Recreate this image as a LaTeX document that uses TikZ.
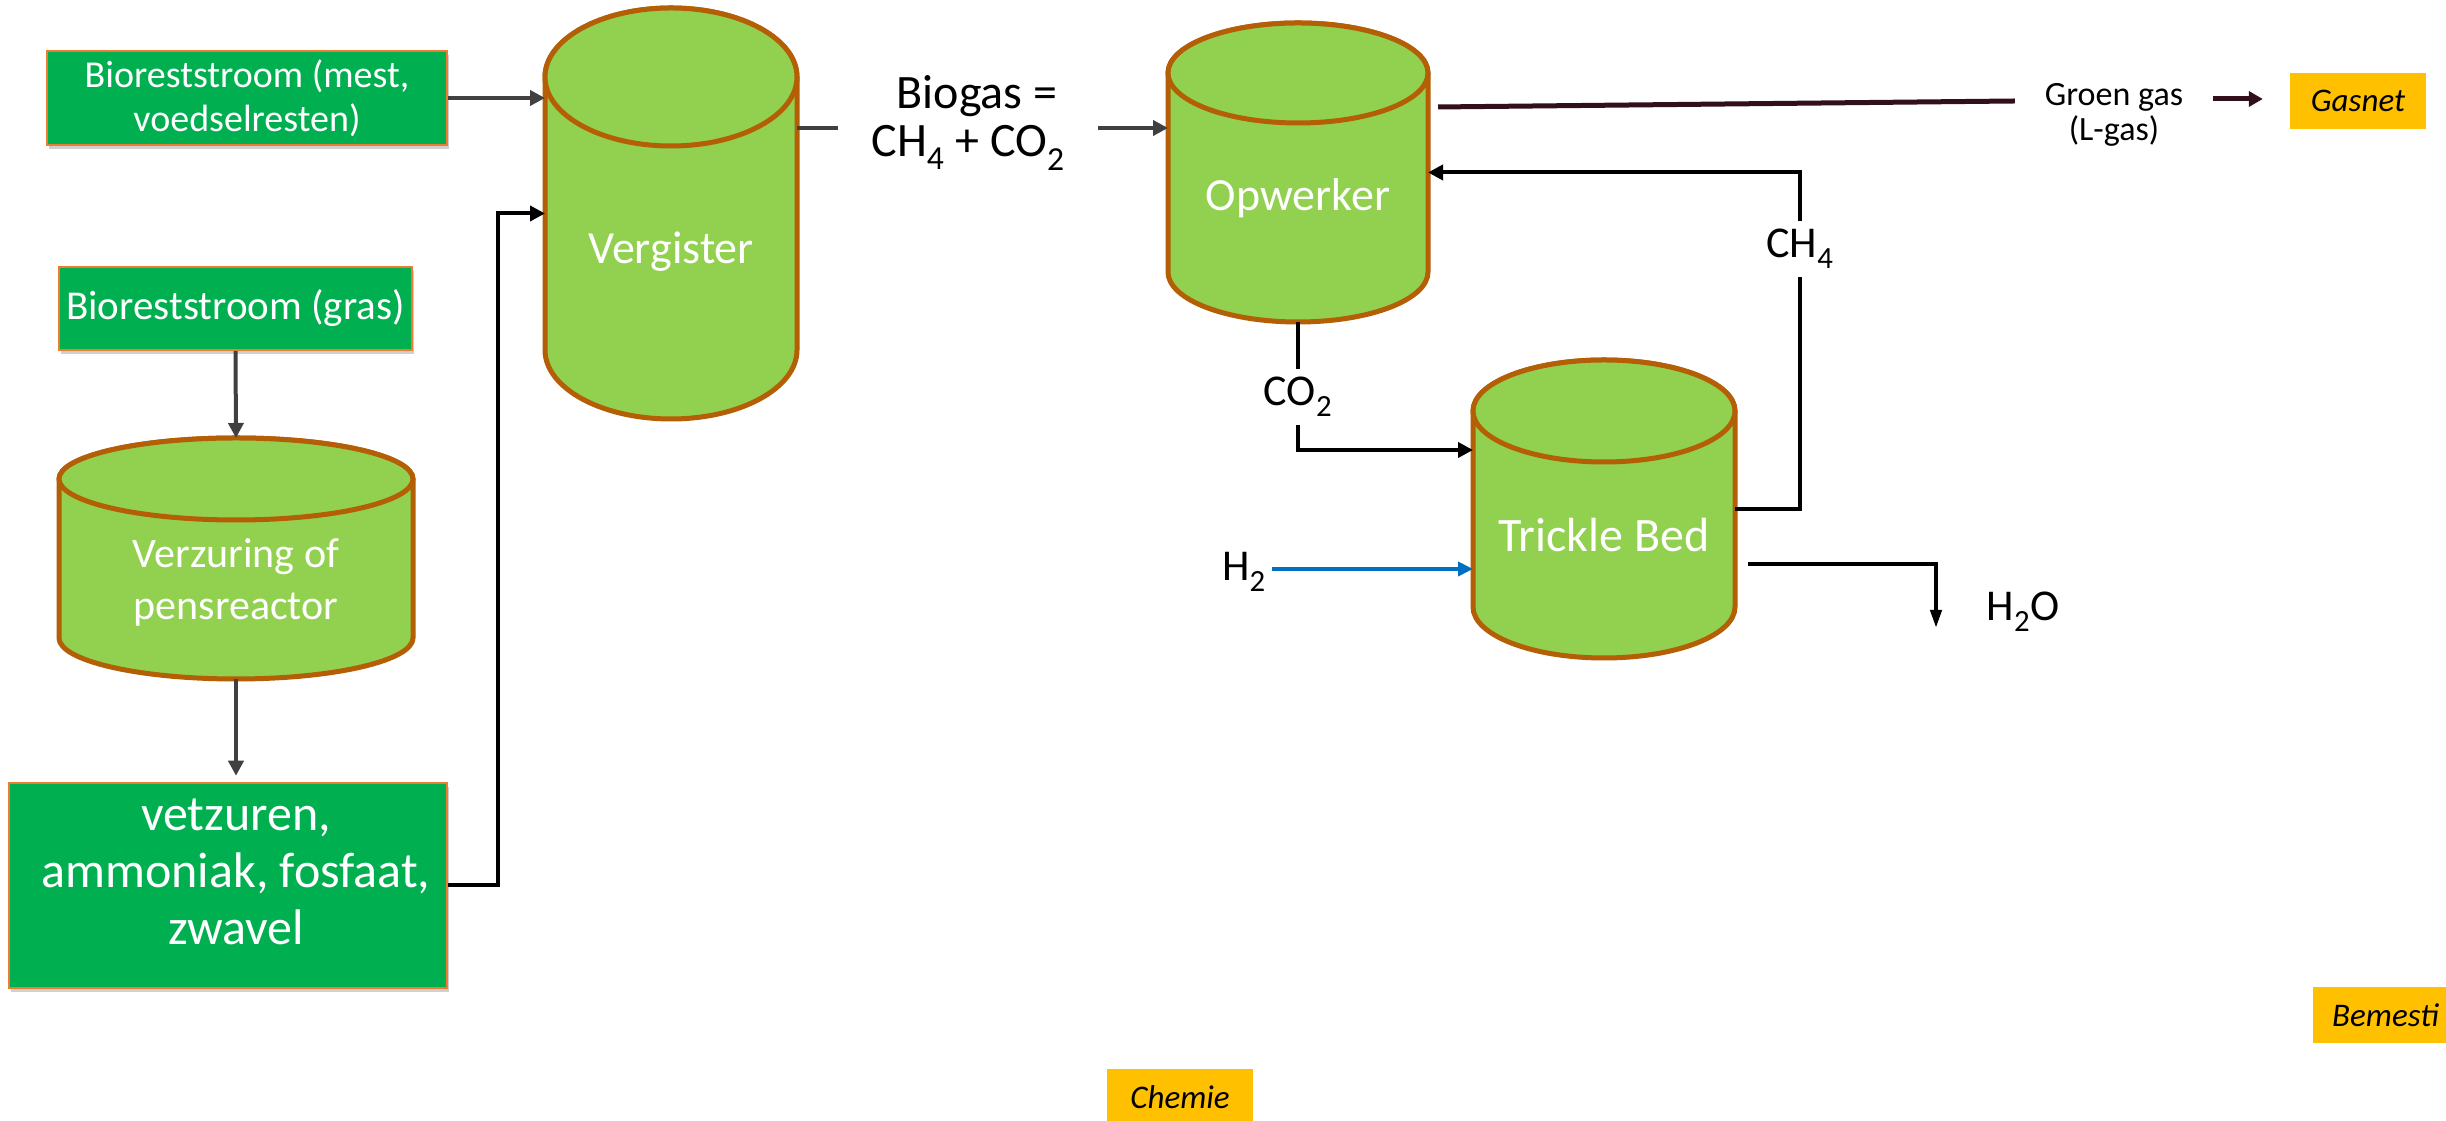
\documentclass[tikz,border=0pt]{standalone}
\usepackage{fontspec}
\setmainfont{Carlito}
\usetikzlibrary{arrows.meta,shadows,calc}
\definecolor{boxgreen}{HTML}{00B050}
\definecolor{boxborder}{HTML}{ED7D31}
\definecolor{cylgreen}{HTML}{92D050}
\definecolor{cylborder}{HTML}{B45F06}
\definecolor{darkgrey}{HTML}{404040}
\definecolor{ggmaroon}{HTML}{320F1C}
\definecolor{h2blue}{HTML}{0070C0}
\definecolor{tagyellow}{HTML}{FFC000}
\tikzset{
  gbox/.style={draw=boxborder, line width=2.5pt, fill=boxgreen, text=white, align=center, inner sep=0pt,
    drop shadow={shadow xshift=2pt, shadow yshift=-4pt, opacity=0.3, fill=black!60}},
  cylstyle/.style={fill=cylgreen, draw=cylborder, line width=5pt},
  cylnode/.style={inner sep=0pt, outer sep=0pt},
  cyltext/.style={text=white, align=center, font=\fontsize{46}{52}\selectfont},
  gaslabel/.style={text=black, align=center, font=\fontsize{44}{50}\selectfont},
  tagbox/.style={fill=tagyellow, text=black, inner sep=0pt, font=\itshape\fontsize{33}{40}\selectfont},
  greyline/.style={draw=darkgrey, line width=4pt},
  greyarrow/.style={greyline, -{Triangle[length=15pt,width=15pt]}},
  blackline/.style={draw=black, line width=4pt},
  blackarrow/.style={blackline, -{Triangle[length=15pt,width=15pt]}},
  thinarrow/.style={blackline, -{Triangle[length=18pt,width=11pt]}},
  bluearrow/.style={draw=h2blue, line width=4pt, -{Triangle[length=15pt,width=14pt]}},
  maroonline/.style={draw=ggmaroon, line width=5pt},
  maroonarrow/.style={maroonline, -{Triangle[length=14pt,width=15pt]}},
}
% name, cx, top y, bottom y, rx, ry   (y upward)
\newcommand\drawcyl[6]{%
  \filldraw[cylstyle] (#2-#5,#3-#6) -- (#2-#5,#4+#6)
     arc[start angle=180,end angle=360,x radius=#5,y radius=#6] -- (#2+#5,#3-#6)
     arc[start angle=0,end angle=180,x radius=#5,y radius=#6] -- cycle;
  \draw[cylstyle] (#2,#3-#6) ellipse[x radius=#5,y radius=#6];
  \node[cylnode,minimum width=2*#5,minimum height=#3-#4] (#1) at (#2,{(#3+#4)/2}) {};
}
\begin{document}
\begin{tikzpicture}[x=1pt,y=1pt]
\useasboundingbox (0,0) rectangle (2446,1121);
\clip (0,0) rectangle (2446,1121);
\fill[white] (0,0) rectangle (2446,1121);

% left column boxes
\node[gbox, minimum width=400, minimum height=94, font=\fontsize{38}{44}\selectfont] (b1) at (247,1023) {Bioreststroom (mest,\\voedselresten)};
\node[gbox, minimum width=353, minimum height=83, font=\fontsize{41}{46}\selectfont] (b2) at (235.5,812.5) {Bioreststroom (gras)};
\node[gbox, minimum width=438, minimum height=205] (b3) at (228,235.5) {};
\node[text=white, align=center, font=\fontsize{50}{57}\selectfont] (b3t) at (236,249) {vetzuren,\\ammoniak, fosfaat,\\zwavel};

% cylinders
\drawcyl{pens}{236}{683}{442}{177}{41}
\node[cyltext, font=\fontsize{42}{52}\selectfont] (penst) at (236,539) {Verzuring of\\pensreactor};
\drawcyl{verg}{671}{1113}{702}{126}{69}
\node[cyltext] (vergt) at (671,869) {Vergister};
\drawcyl{opw}{1298}{1098}{799}{130}{50}
\node[cyltext] (opwt) at (1298,923) {Opwerker};
\drawcyl{tb}{1604}{761}{463}{131}{51}
\node[cyltext, font=\fontsize{48}{52}\selectfont] (tbt) at (1604,586) {Trickle Bed};

% left connectors
\draw[greyarrow] (b1.east) -- (b1.east -| verg.west);
\draw[greyarrow] (b2.south) -- (pens.north);
\draw[greyarrow, shorten >=6pt] (pens.south) -- (pens.south |- b3.north);
\draw[blackarrow] (b3.east) -- ++(50,0) |- (verg.west);

% biogas
\node[gaslabel, font=\fontsize{48}{48}\selectfont] (biogas) at (968,998) {\hspace*{18pt}Biogas =\\CH\textsubscript{4} + CO\textsubscript{2}};
\draw[greyline] ([xshift=-130pt,yshift=-5pt]biogas.center) -- ([yshift=-5pt]biogas.center -| verg.east);
\draw[greyarrow] ([xshift=130pt,yshift=-5pt]biogas.center) -- ([yshift=-5pt]biogas.center -| opw.west);

% groen gas
\node[text=black, align=center, font=\fontsize{34}{35}\selectfont, inner xsep=30pt] (gg) at (2114,1006) {Groen gas\\(L-gas)};
\draw[maroonline] ([xshift=10pt,yshift=-84pt]opw.north east) -- ([yshift=14pt]gg.west);
\node[tagbox, minimum width=136, minimum height=56] (gasnet) at (2358,1020) {Gasnet};
\draw[maroonarrow, shorten >=27pt] ([yshift=16pt]gg.east) -- ([yshift=16pt]gg.east -| gasnet.west);

% CH4 loop
\draw[blackarrow] (tb.east) -- ++(65,0) |- (opw.east);
\node[gaslabel, fill=white, inner sep=8pt] (ch4) at (1800,872) {CH\textsubscript{4}};

% CO2
\draw[blackarrow] (opw.south) |- ([yshift=59pt]tb.west);
\node[gaslabel, fill=white, inner sep=8pt] (co2) at (1298,724) {CO\textsubscript{2}};

% H2
\node[gaslabel, inner sep=6pt] (h2) at (1244,549) {H\textsubscript{2}};
\draw[bluearrow] ([yshift=3pt]h2.east) -- ([yshift=3pt]h2.east -| tb.west);

% H2O
\coordinate (h2oend) at (1936,493);
\draw[thinarrow] ([xshift=13pt,yshift=-55pt]tb.east) -| (h2oend);
\node[gaslabel] (h2o) at (2023,509) {H\textsubscript{2}O};

% tags at the bottom
\node[tagbox, minimum width=146, minimum height=56] (chemie) at (1180,24) {Chemie};
\node[tagbox, anchor=west, minimum width=170, minimum height=56] (bem) at (2313,106) {};
\node[anchor=west, inner sep=0pt, text=black, font=\itshape\fontsize{33}{40}\selectfont] (bemt) at (2332,106) {Bemesti};
\end{tikzpicture}
\end{document}
